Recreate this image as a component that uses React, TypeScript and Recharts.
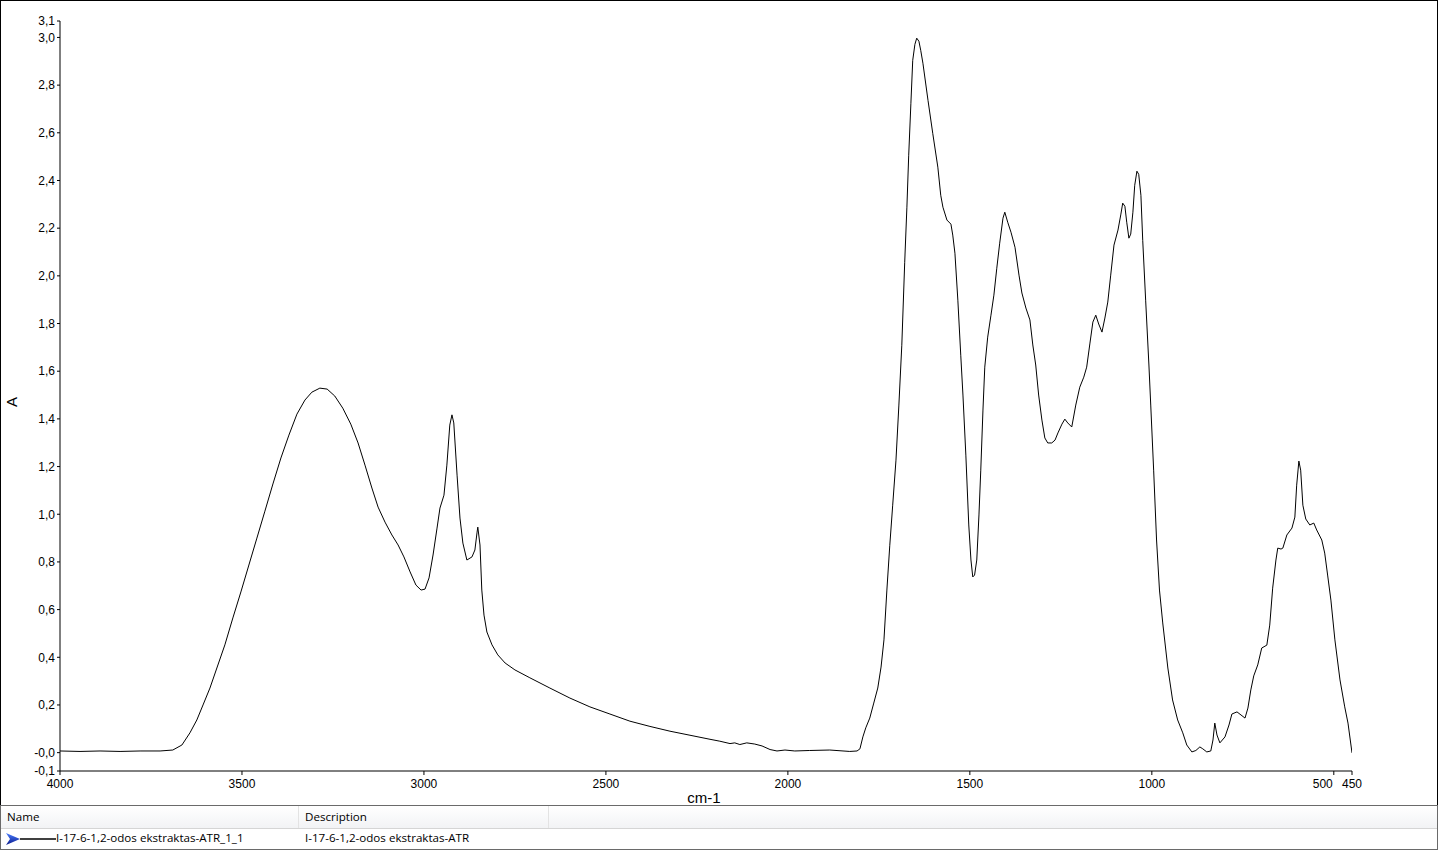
import React from "react";
import { LineChart, Line, XAxis, YAxis, Label } from "recharts";

const wavenumbers = [
  4000, 3945, 3890, 3835, 3780, 3725, 3690, 3665, 3643, 3624, 3607, 3588, 3569, 3547, 3525, 3503, 3481, 3459, 3437, 3415,
  3393, 3371, 3349, 3327, 3308, 3286, 3266, 3245, 3223, 3201, 3181, 3162, 3143, 3126, 3107, 3088, 3071, 3055, 3038, 3022,
  3008, 2997, 2986, 2975, 2964, 2956, 2945, 2937, 2929, 2923, 2918, 2909, 2901, 2893, 2882, 2868, 2860, 2854, 2852, 2846,
  2841, 2835, 2827, 2813, 2797, 2777, 2750, 2709, 2654, 2599, 2544, 2489, 2434, 2379, 2324, 2269, 2214, 2187, 2159, 2146, 2132,
  2113, 2091, 2071, 2049, 2030, 2008, 1981, 1940, 1885, 1830, 1810, 1802, 1794, 1786, 1775, 1764, 1753, 1744, 1736, 1728,
  1720, 1712, 1703, 1695, 1687, 1679, 1673, 1668, 1662, 1657, 1651, 1646, 1640, 1635, 1629, 1615, 1602, 1588, 1580, 1574,
  1563, 1552, 1547, 1541, 1533, 1525, 1519, 1511, 1503, 1497, 1492, 1487, 1481, 1475, 1470, 1464, 1459, 1451, 1442, 1434,
  1426, 1418, 1409, 1404, 1396, 1387, 1376, 1365, 1357, 1346, 1335, 1327, 1319, 1311, 1302, 1294, 1286, 1275, 1266, 1258,
  1247, 1239, 1231, 1220, 1209, 1198, 1187, 1179, 1170, 1162, 1154, 1146, 1137, 1129, 1121, 1113, 1104, 1093, 1085, 1080,
  1074, 1069, 1063, 1058, 1052, 1047, 1041, 1036, 1030, 1025, 1017, 1008, 1003, 995, 987, 979, 970, 956, 943, 929,
  915, 904, 890, 879, 868, 860, 849, 838, 832, 827, 821, 813, 799, 788, 780, 766, 755, 744, 736, 728,
  720, 709, 698, 684, 676, 668, 659, 654, 645, 640, 629, 615, 607, 602, 596, 591, 585, 577, 566, 555,
  547, 533, 525, 517, 508, 497, 483, 470, 461, 450,
];

const absorbance = [
  0.007, 0.005, 0.007, 0.005, 0.007, 0.007, 0.011, 0.032, 0.083, 0.137, 0.2, 0.271, 0.355, 0.452, 0.565, 0.674, 0.787, 0.9, 1.013, 1.127,
  1.236, 1.332, 1.42, 1.479, 1.512, 1.529, 1.525, 1.496, 1.445, 1.378, 1.299, 1.206, 1.11, 1.03, 0.967, 0.913, 0.871, 0.821, 0.758, 0.703,
  0.682, 0.686, 0.733, 0.829, 0.942, 1.026, 1.08, 1.206, 1.374, 1.417, 1.383, 1.164, 0.984, 0.879, 0.808, 0.821, 0.85, 0.925, 0.946, 0.871,
  0.682, 0.577, 0.506, 0.452, 0.41, 0.376, 0.347, 0.314, 0.271, 0.229, 0.192, 0.162, 0.132, 0.11, 0.09, 0.073, 0.056, 0.048, 0.038, 0.041, 0.034,
  0.041, 0.036, 0.028, 0.013, 0.007, 0.011, 0.007, 0.009, 0.011, 0.005, 0.007, 0.016, 0.066, 0.104, 0.145, 0.208, 0.271, 0.359, 0.473, 0.682,
  0.87, 1.038, 1.227, 1.458, 1.709, 2.057, 2.288, 2.506, 2.724, 2.904, 2.971, 2.997, 2.984, 2.946, 2.892, 2.736, 2.598, 2.456, 2.338, 2.288,
  2.234, 2.217, 2.171, 2.095, 1.898, 1.667, 1.5, 1.248, 0.955, 0.808, 0.737, 0.745, 0.808, 0.997, 1.185, 1.437, 1.617, 1.743, 1.835, 1.919,
  2.032, 2.137, 2.242, 2.267, 2.225, 2.183, 2.12, 2.003, 1.928, 1.865, 1.815, 1.71, 1.626, 1.5, 1.395, 1.32, 1.299, 1.299, 1.311, 1.341,
  1.378, 1.399, 1.383, 1.366, 1.458, 1.533, 1.575, 1.617, 1.718, 1.806, 1.835, 1.798, 1.764, 1.823, 1.89, 2.003, 2.129, 2.192, 2.259, 2.305,
  2.292, 2.225, 2.158, 2.175, 2.267, 2.38, 2.439, 2.426, 2.338, 2.149, 1.898, 1.626, 1.458, 1.185, 0.892, 0.682, 0.544, 0.355, 0.221, 0.137,
  0.083, 0.032, 0.003, 0.009, 0.024, 0.016, 0.003, 0.007, 0.053, 0.124, 0.074, 0.041, 0.066, 0.116, 0.162, 0.171, 0.158, 0.145, 0.187, 0.263,
  0.322, 0.368, 0.439, 0.451, 0.535, 0.69, 0.808, 0.858, 0.854, 0.858, 0.913, 0.942, 0.988, 1.122, 1.223, 1.185, 1.038, 0.98, 0.955, 0.963,
  0.934, 0.892, 0.837, 0.745, 0.64, 0.473, 0.305, 0.192, 0.124, -0.001,
];

const xTicks = [4000, 3500, 3000, 2500, 2000, 1500, 1000, 500, 450];
const yTicks = [-0.077, 0, 0.2, 0.4, 0.6, 0.8, 1.0, 1.2, 1.4, 1.6, 1.8, 2.0, 2.2, 2.4, 2.6, 2.8, 3.0, 3.069];
const yTickLabels = ["-0,1", "-0,0", "0,2", "0,4", "0,6", "0,8", "1,0", "1,2", "1,4", "1,6", "1,8", "2,0", "2,2", "2,4", "2,6", "2,8", "3,0", "3,1"];

const seriesName = "I-17-6-1,2-odos ekstraktas-ATR_1_1";
const seriesDescription = "I-17-6-1,2-odos ekstraktas-ATR";

const data = wavenumbers.map((w, i) => ({ w, a: absorbance[i] }));

const tickFont = { fontSize: 12, fill: "#000", fontFamily: "Liberation Sans, Arial, sans-serif" };

const XTick = (props: any) => {
  const { x, y, payload } = props;
  const v = payload.value;
  const anchor = v === 500 ? "end" : "middle";
  const xx = v === 500 ? x - 1 : x;
  return (
    <text x={xx} y={y} dy="0.71em" textAnchor={anchor} {...tickFont}>
      {String(v)}
    </text>
  );
};

const YTick = (props: any) => {
  const { x, y, payload } = props;
  const idx = yTicks.indexOf(payload.value);
  const label = idx >= 0 ? yTickLabels[idx] : String(payload.value);
  return (
    <text x={x} y={y} dy="0.355em" textAnchor="end" {...tickFont}>
      {label}
    </text>
  );
};

export default function App() {
  return (
    <div
      style={{
        position: "absolute",
        left: 0,
        top: 0,
        width: 1438,
        height: 850,
        background: "#fff",
        boxSizing: "border-box",
        overflow: "hidden",
      }}
    >
      <div
        style={{
          position: "absolute",
          left: 0,
          top: 0,
          width: 1438,
          height: 806,
          boxSizing: "border-box",
          borderTop: "1px solid #000",
          borderLeft: "1px solid #000",
          borderRight: "1px solid #000",
        }}
      />
      <div style={{ position: "absolute", left: 0, top: 0 }}>
        <LineChart
          width={1438}
          height={805}
          data={data}
          margin={{ top: 21, right: 86, left: 0, bottom: 0 }}
        >
          <XAxis
            dataKey="w"
            type="number"
            domain={[450, 4000]}
            reversed
            allowDataOverflow
            ticks={xTicks}
            interval={0}
            height={34}
            tickSize={4}
            tickMargin={4}
            tick={<XTick />}
            axisLine={{ stroke: "#000" }}
            tickLine={{ stroke: "#000" }}
          >
            <Label
              content={() => (
                <text
                  x={704}
                  y={797}
                  textAnchor="middle"
                  dominantBaseline="central"
                  style={{ fontSize: 15, fill: "#000", fontFamily: "Liberation Sans, Arial, sans-serif" }}
                >
                  cm-1
                </text>
              )}
            />
          </XAxis>
          <YAxis
            type="number"
            domain={[-0.077, 3.069]}
            allowDataOverflow
            ticks={yTicks}
            interval={0}
            width={60}
            tickSize={3}
            tickMargin={2}
            tick={<YTick />}
            axisLine={{ stroke: "#000" }}
            tickLine={{ stroke: "#000" }}
          >
            <Label
              content={() => (
                <text
                  x={11}
                  y={402}
                  transform="rotate(-90 11 402)"
                  textAnchor="middle"
                  dominantBaseline="central"
                  style={{ fontSize: 15, fill: "#000", fontFamily: "Liberation Sans, Arial, sans-serif" }}
                >
                  A
                </text>
              )}
            />
          </YAxis>
          <Line
            type="linear"
            dataKey="a"
            stroke="#000"
            strokeWidth={1}
            dot={false}
            isAnimationActive={false}
          />
        </LineChart>
      </div>

      {/* series table */}
      <div
        style={{
          position: "absolute",
          left: 0,
          top: 805,
          width: 1438,
          height: 45,
          boxSizing: "border-box",
          borderTop: "1px solid #6a6a6a",
          borderLeft: "1px solid #6a6a6a",
          borderRight: "1px solid #6a6a6a",
          borderBottom: "1px solid #6a6a6a",
          fontFamily: "'Open Sans', 'Noto Sans', sans-serif",
          fontSize: 11.6,
          color: "#000",
        }}
      >
        <div
          style={{
            position: "absolute",
            left: 0,
            top: 0,
            right: 0,
            height: 22,
            background: "linear-gradient(#ffffff, #f2f3f5)",
            borderBottom: "1px solid #d5d5d5",
          }}
        >
          <div style={{ position: "absolute", left: 6, top: 3 }}>Name</div>
          <div style={{ position: "absolute", left: 297, top: 0, width: 1, height: 22, background: "#e3e3e3" }} />
          <div style={{ position: "absolute", left: 304, top: 3 }}>Description</div>
          <div style={{ position: "absolute", left: 547, top: 0, width: 1, height: 22, background: "#e3e3e3" }} />
        </div>
        <div style={{ position: "absolute", left: 0, top: 23, right: 0, height: 20 }}>
          <svg width={56} height={20} style={{ position: "absolute", left: 3, top: 0 }}>
            <defs>
              <linearGradient id="arw" x1="0" y1="0" x2="0" y2="1">
                <stop offset="0" stopColor="#4a7dff" />
                <stop offset="1" stopColor="#0a1a8c" />
              </linearGradient>
            </defs>
            <path d="M2 4 L16 10 L2 16 L6 10 Z" fill="url(#arw)" />
            <line x1={16} y1={10} x2={52} y2={10} stroke="#000" strokeWidth={1.5} />
          </svg>
          <div style={{ position: "absolute", left: 55, top: 1, whiteSpace: "nowrap" }}>{seriesName}</div>
          <div style={{ position: "absolute", left: 304, top: 1, whiteSpace: "nowrap" }}>{seriesDescription}</div>
        </div>
      </div>
    </div>
  );
}
